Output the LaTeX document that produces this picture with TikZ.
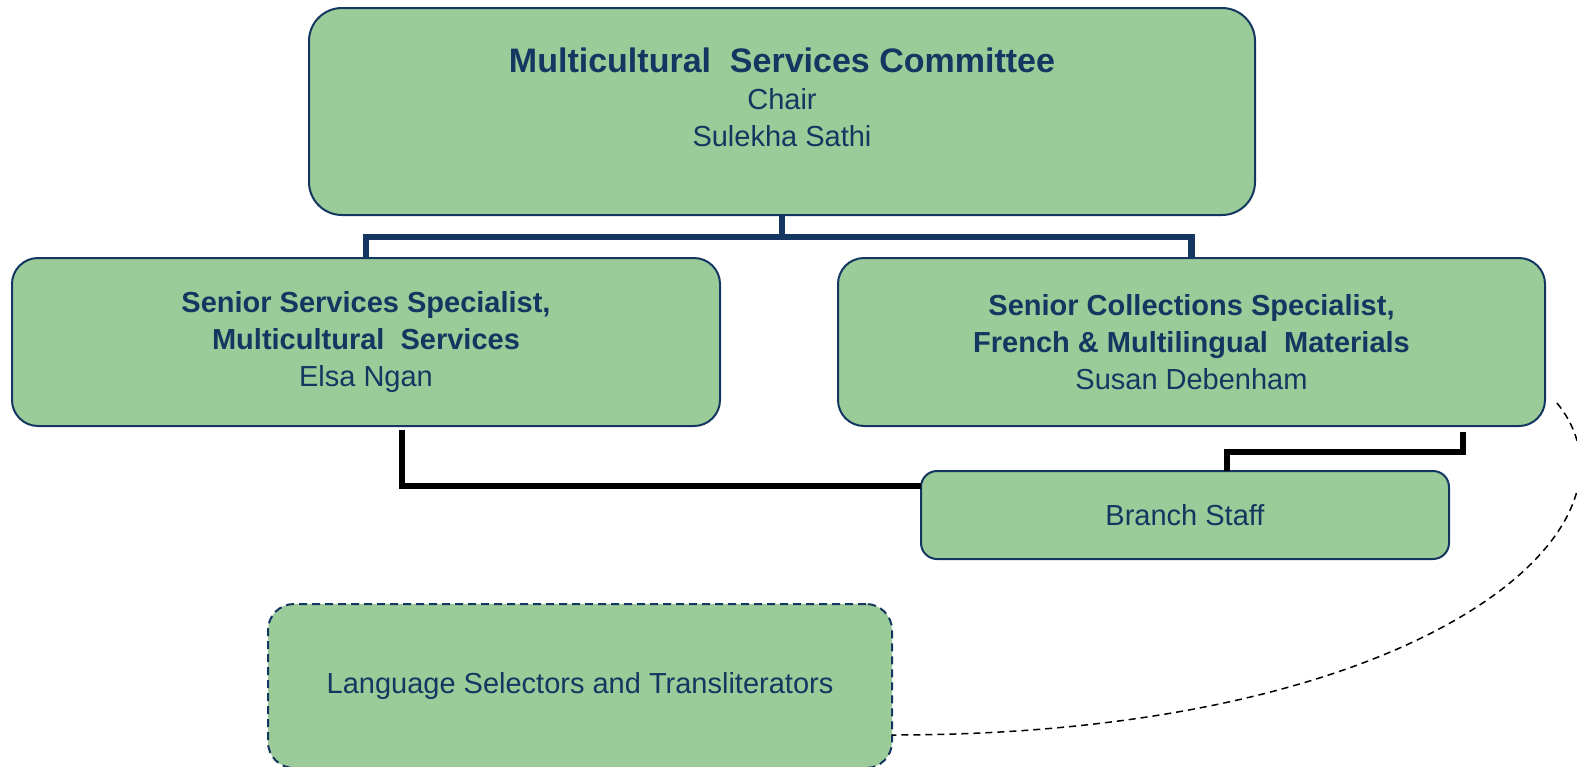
\documentclass[tikz,border=0pt]{standalone}
\usepackage{fontspec}
\setmainfont{Liberation Sans}
\usepackage{xcolor}
\definecolor{boxgreen}{RGB}{155,203,152}
\definecolor{navy}{RGB}{20,55,98}

\begin{document}
\begin{tikzpicture}[x=1pt,y=1pt,
  box/.style={draw=navy, line width=2pt, fill=boxgreen, rounded corners=26pt, inner sep=0pt, outer sep=0pt},
  txt/.style={text=navy, align=center, font=\fontsize{29}{37}\selectfont},
  trunk/.style={draw=navy, line width=6.5pt},
  link/.style={draw=black, line width=6pt}]
\useasboundingbox (0,0) rectangle (1577,-766);

\node[box, rounded corners=33pt, minimum width=946, minimum height=207] (msc) at (782,-111.5) {};
\node[txt] (msctext) at (782,-97) {{\bfseries\fontsize{34}{39}\selectfont Multicultural\ \ Services Committee}\\ Chair\\ Sulekha Sathi};
\node[box, txt, minimum width=708, minimum height=168] (sss) at (366,-342) {\textbf{Senior Services Specialist,}\\ \textbf{Multicultural\ \ Services}\\ Elsa Ngan};
\node[box, txt, minimum width=707, minimum height=168] (scs) at (1191.5,-342) {\textbf{Senior Collections Specialist,}\\ \textbf{French \& Multilingual\ \ Materials}\\ Susan Debenham};
\node[box, txt, rounded corners=16pt, minimum width=528, minimum height=88] (branch) at (1185,-515) {Branch Staff};
\node[box, txt, dash pattern=on 8pt off 5pt, minimum width=624, minimum height=164] (lsel) at (580,-686) {Language Selectors and Transliterators};

% reporting lines
\draw[trunk] (msc.south) -- ++(0,-22) coordinate (hub);
\draw[trunk] (sss.north) |- (hub) -| (scs.north);
\draw[link] ([xshift=36pt,yshift=-4pt]sss.south) |- ([yshift=29pt]branch.west);
\draw[link] ([xshift=271.5pt,yshift=-6pt]scs.south) -- ++(0,-20) -| ([xshift=42pt]branch.north);
\draw[black, line width=1.5pt, dash pattern=on 7pt off 5pt] ([xshift=12pt,yshift=23pt]scs.south east) .. controls (1660,-530) and (1420,-735) .. ([yshift=-49pt]lsel.east);
\end{tikzpicture}
\end{document}
